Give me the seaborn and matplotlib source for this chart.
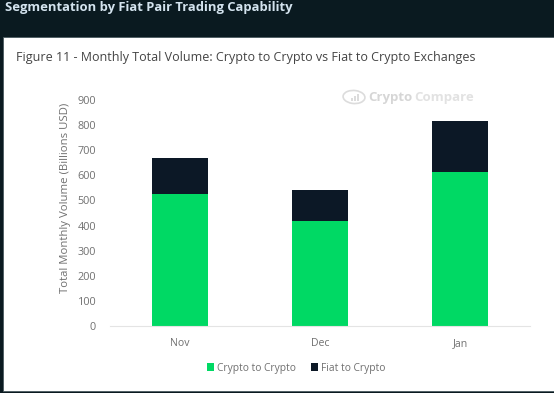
import matplotlib
matplotlib.use('Agg')
import numpy as np
import pandas as pd
import seaborn as sns
from matplotlib import pyplot as plt
from matplotlib.patches import Rectangle, Ellipse

months = ['Nov', 'Dec', 'Jan']
crypto_to_crypto = [525, 420, 612]
fiat_to_crypto = [145, 120, 203]
yticks = [0, 100, 200, 300, 400, 500, 600, 700, 800, 900]

W, H = 554, 393
GREEN = '#00d964'
NAVY = '#0c1826'
GREY = '#707070'

sns.set_theme(style='white')
plt.rcParams['font.family'] = ['Open Sans', 'DejaVu Sans']

df = pd.DataFrame({'Month': months, 'Crypto to Crypto': crypto_to_crypto, 'Fiat to Crypto': fiat_to_crypto})

fig = plt.figure(figsize=(W / 100, H / 100), dpi=100, facecolor='#0a1a20')
fig.add_artist(Rectangle((3 / W, 1 - 391 / H), 551 / W, 354 / H, transform=fig.transFigure,
                         facecolor='white', edgecolor='#4a5a60', linewidth=0.6, zorder=-5))
ax = fig.add_axes([110 / W, 1 - 326 / H, 420 / W, 226 / H])
ax.patch.set_alpha(0)

sns.barplot(data=df, x='Month', y='Crypto to Crypto', color=GREEN, width=0.4, saturation=1, ax=ax,
            label='Crypto to Crypto', linewidth=0)
sns.barplot(data=df, x='Month', y='Fiat to Crypto', bottom=df['Crypto to Crypto'], color=NAVY, width=0.4,
            saturation=1, ax=ax, label='Fiat to Crypto', linewidth=0)

ax.set_ylim(0, 900)
ax.set_yticks(yticks)
ax.set_xlabel('')
ax.set_ylabel('Total Monthly Volume (Billions USD)', fontsize=8.2, color=GREY)
ax.yaxis.set_label_coords(-0.093, 0.566)
ax.tick_params(axis='x', length=0, labelsize=7.6, labelcolor=GREY, pad=9)
ax.tick_params(axis='y', length=0, labelsize=7.8, labelcolor=GREY, pad=10)
sns.despine(ax=ax, left=True)
ax.spines['bottom'].set_color('#e4e4e4')
ax.spines['bottom'].set_linewidth(0.8)

ax.legend(loc='upper center', bbox_to_anchor=(0.443, -0.162), ncol=2, frameon=False,
          fontsize=7.4, labelcolor=GREY, handlelength=0.7, handleheight=0.7, handletextpad=0.3,
          columnspacing=1.46, borderpad=0, borderaxespad=0)

fig.text(5 / W, 1 - 8 / H, 'Segmentation by Fiat Pair Trading Capability', fontsize=9.4, fontweight='bold',
         color='#d3e3ee', ha='left', va='center')
fig.text(16 / W, 1 - 57 / H, 'Figure 11 - Monthly Total Volume: Crypto to Crypto vs Fiat to Crypto Exchanges',
         fontsize=9.0, color='#444444', ha='left', va='center')

# watermark
fig.add_artist(Ellipse((354 / W, 1 - 97 / H), 22 / W, 13 / H, angle=-12, transform=fig.transFigure,
                       facecolor='none', edgecolor='#dcdcdc', linewidth=1.2, zorder=-1))
for dx, h in [(351, 3), (354, 5), (357, 7)]:
    fig.add_artist(Rectangle((dx / W, 1 - 101 / H), 1.5 / W, h / H, transform=fig.transFigure,
                             facecolor='#dcdcdc', edgecolor='none', zorder=-1))
fig.text(368 / W, 1 - 97 / H, 'Crypto', fontsize=9.5, fontweight='bold', color='#d6d6d6', ha='left', va='center')
fig.text(414 / W, 1 - 97 / H, 'Compare', fontsize=9.5, fontweight='bold', color='#e2e2e2', ha='left', va='center')

plt.savefig('out.png', dpi=100, facecolor=fig.get_facecolor())
plt.close()
